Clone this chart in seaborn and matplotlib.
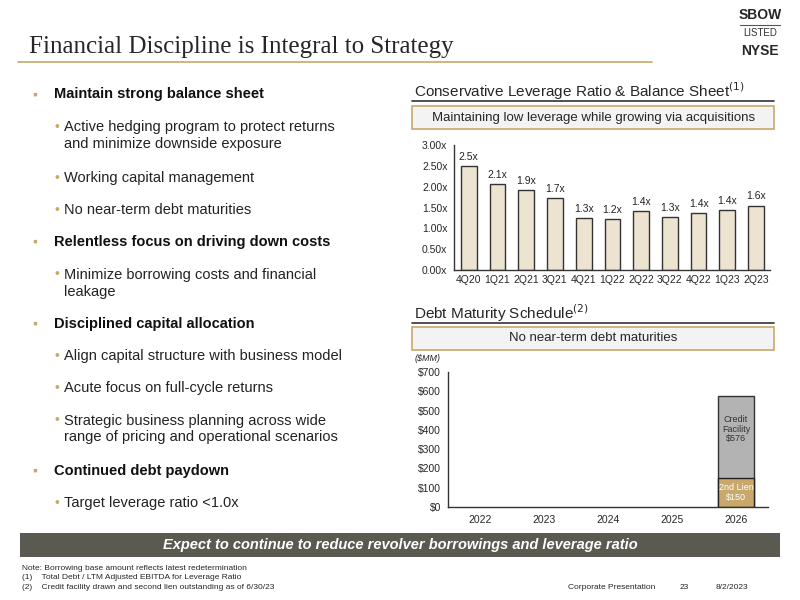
import matplotlib
matplotlib.use("Agg")
import matplotlib.pyplot as plt
import seaborn as sns
import pandas as pd
from matplotlib.patches import Rectangle
from matplotlib.lines import Line2D

sns.set_theme(style="white")
plt.rcParams['font.family'] = ['Liberation Sans', 'DejaVu Sans']

quarters = ["4Q20","1Q21","2Q21","3Q21","4Q21","1Q22","2Q22","3Q22","4Q22","1Q23","2Q23"]
leverage = [2.50,2.07,1.92,1.73,1.25,1.23,1.41,1.27,1.36,1.44,1.55]
lev_labels = ["2.5x","2.1x","1.9x","1.7x","1.3x","1.2x","1.4x","1.3x","1.4x","1.4x","1.6x"]
years = ["2022","2023","2024","2025","2026"]
second_lien = [0,0,0,0,150]
credit_facility = [0,0,0,0,426]
credit_total_label = "$576"

GOLD = "#c8a86b"
fig = plt.figure(figsize=(8,6), dpi=100)
fig.patch.set_facecolor("white")

# Title
fig.text(0.036, 0.922, "Financial Discipline is Integral to Strategy", fontsize=18,
         family=["Liberation Serif","DejaVu Serif"], va="center")
fig.add_artist(Line2D([0.022,0.815],[0.897,0.897], color=GOLD, lw=1.2))
fig.text(0.95, 0.975, "SBOW", fontsize=10, weight="bold", ha="center", va="center")
fig.add_artist(Line2D([0.925,0.975],[0.958,0.958], color="#555", lw=0.8))
fig.text(0.95, 0.945, "LISTED", fontsize=7, ha="center", va="center", color="#333")
fig.text(0.95, 0.915, "NYSE", fontsize=10, weight="bold", ha="center", va="center")

# Left bullets
items = [
 (0, 0.843, "Maintain strong balance sheet"),
 (1, 0.774, "Active hedging program to protect returns\nand minimize downside exposure"),
 (1, 0.703, "Working capital management"),
 (1, 0.65, "No near-term debt maturities"),
 (0, 0.597, "Relentless focus on driving down costs"),
 (1, 0.528, "Minimize borrowing costs and financial\nleakage"),
 (0, 0.46, "Disciplined capital allocation"),
 (1, 0.407, "Align capital structure with business model"),
 (1, 0.353, "Acute focus on full-cycle returns"),
 (1, 0.285, "Strategic business planning across wide\nrange of pricing and operational scenarios"),
 (0, 0.215, "Continued debt paydown"),
 (1, 0.162, "Target leverage ratio <1.0x"),
]
for lvl, y, t in items:
    if lvl == 0:
        fig.text(0.04, y, "▪", color=GOLD, fontsize=10, va="center")
        fig.text(0.068, y, t, fontsize=10.5, weight="bold", va="center", color="#111")
    else:
        first_y = y + (0.0 if "\n" not in t else 0.015)
        fig.text(0.068, first_y, "•", color=GOLD, fontsize=10, va="center")
        fig.text(0.08, y, t, fontsize=10.5, va="center", color="#222", linespacing=1.25)

# Right: chart 1 header
fig.text(0.518, 0.848, "Conservative Leverage Ratio & Balance Sheet$^{(1)}$", fontsize=11, va="center")
fig.add_artist(Line2D([0.515,0.968],[0.832,0.832], color="#333", lw=1.2))
fig.add_artist(Rectangle((0.515,0.785),0.453,0.038, transform=fig.transFigure,
               facecolor="#f3f3f3", edgecolor=GOLD, lw=1.2))
fig.text(0.7415, 0.804, "Maintaining low leverage while growing via acquisitions", fontsize=9.5, ha="center", va="center")

ax1 = fig.add_axes([0.568, 0.55, 0.395, 0.208])
df1 = pd.DataFrame({"q": quarters, "v": leverage})
sns.barplot(data=df1, x="q", y="v", color="#ece3d1", edgecolor="#333", linewidth=1, width=0.55, ax=ax1, saturation=1)
for i, (v, l) in enumerate(zip(leverage, lev_labels)):
    ax1.text(i, v + 0.1, l, ha="center", va="bottom", fontsize=7.5, color="#222")
ax1.set_ylim(0, 3)
ax1.set_yticks([0,0.5,1,1.5,2,2.5,3])
ax1.set_yticklabels([f"{t:.2f}x" for t in ax1.get_yticks()], fontsize=7.5)
ax1.tick_params(axis="x", labelsize=7.5, length=0)
ax1.tick_params(axis="y", length=0, pad=5)
ax1.set_xlabel(""); ax1.set_ylabel("")
for s in ["top","right"]:
    ax1.spines[s].set_visible(False)
for s in ["left","bottom"]:
    ax1.spines[s].set_color("#333"); ax1.spines[s].set_linewidth(1)

# Chart 2 header
fig.text(0.518, 0.478, "Debt Maturity Schedule$^{(2)}$", fontsize=11, va="center")
fig.add_artist(Line2D([0.515,0.968],[0.462,0.462], color="#333", lw=1.2))
fig.add_artist(Rectangle((0.515,0.417),0.453,0.038, transform=fig.transFigure,
               facecolor="#f3f3f3", edgecolor=GOLD, lw=1.2))
fig.text(0.7415, 0.436, "No near-term debt maturities", fontsize=9.5, ha="center", va="center")
fig.text(0.518, 0.402, "($MM)", fontsize=6.5, style="italic", va="center")

ax2 = fig.add_axes([0.56, 0.155, 0.4, 0.225])
df2 = pd.DataFrame({"y": years, "lien": second_lien, "total": [a+b for a,b in zip(second_lien, credit_facility)]})
sns.barplot(data=df2, x="y", y="total", color="#b3b3b3", edgecolor="#333", linewidth=1, width=0.55, ax=ax2, saturation=1)
sns.barplot(data=df2, x="y", y="lien", color=GOLD, edgecolor="#222", linewidth=1, width=0.55, ax=ax2, saturation=1)
for p in ax2.patches:
    if p.get_height() == 0:
        p.set_visible(False)
i = 4
ax2.text(i, second_lien[i] + credit_facility[i]/2 + 40, f"Credit\nFacility\n{credit_total_label}",
         ha="center", va="center", fontsize=6.5, color="#333", linespacing=1.1)
ax2.text(i, second_lien[i]/2, f"2nd Lien\n${second_lien[i]}", ha="center", va="center",
         fontsize=6.5, color="white", linespacing=1.1)
ax2.set_ylim(0, 700)
ax2.set_yticks(range(0, 701, 100))
ax2.set_yticklabels([f"${t}" for t in range(0, 701, 100)], fontsize=7.5)
ax2.tick_params(axis="x", labelsize=7.5, length=0, pad=6)
ax2.tick_params(axis="y", length=0, pad=5)
ax2.set_xlabel(""); ax2.set_ylabel("")
for s in ["top","right"]:
    ax2.spines[s].set_visible(False)
for s in ["left","bottom"]:
    ax2.spines[s].set_color("#333"); ax2.spines[s].set_linewidth(1)

# Banner
fig.add_artist(Rectangle((0.025,0.072),0.95,0.04, transform=fig.transFigure,
               facecolor="#5a5a50", edgecolor="none"))
fig.text(0.5, 0.092, "Expect to continue to reduce revolver borrowings and leverage ratio",
         fontsize=10.5, weight="bold", style="italic", color="white", ha="center", va="center")

# Footnotes
fig.text(0.027, 0.053, "Note: Borrowing base amount reflects latest redetermination", fontsize=6, va="center")
fig.text(0.027, 0.037, "(1)    Total Debt / LTM Adjusted EBITDA for Leverage Ratio", fontsize=6, va="center")
fig.text(0.027, 0.021, "(2)    Credit facility drawn and second lien outstanding as of 6/30/23", fontsize=6, va="center")
fig.text(0.71, 0.021, "Corporate Presentation", fontsize=6, va="center")
fig.text(0.85, 0.021, "23", fontsize=6, va="center")
fig.text(0.895, 0.021, "8/2/2023", fontsize=6, va="center")

fig.savefig("out.png", dpi=100)
